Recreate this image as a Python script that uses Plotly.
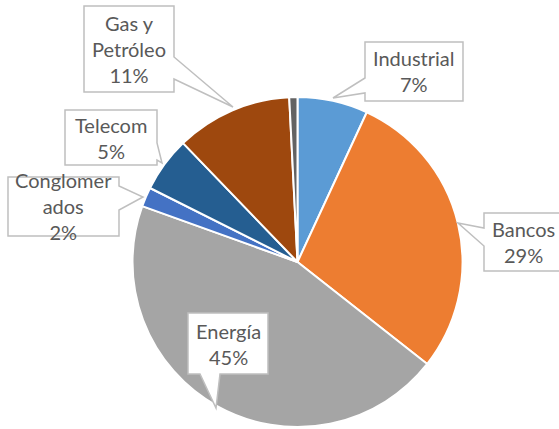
import plotly.graph_objects as go

W, H = 559, 429

sectors = ["Industrial", "Bancos", "Energía", "Conglomerados", "Telecom", "Gas y Petróleo", "Otros"]
values = [6.9, 28.7, 44.9, 1.9, 5.4, 11.4, 0.8]
colors = ["#5B9BD5", "#ED7D31", "#A5A5A5", "#4472C4", "#255E91", "#9E480E", "#636363"]
label_lines = [["Industrial"], ["Bancos"], ["Energía"], ["Conglomer", "ados"], ["Telecom"], ["Gas y", "Petróleo"], None]

# callout layout (pixels): box x0,y0,x1,y1 ; pointer edge, base range along edge, tip
callouts = [
    dict(box=(365, 42, 463, 101), edge="left", base=(78, 93), tip=(333, 98)),
    dict(box=(484, 213, 562, 271), edge="left", base=(228, 246), tip=(458, 223)),
    dict(box=(188, 313, 268, 374), edge="bottom", base=(200, 220), tip=(216, 408)),
    dict(box=(8, 177, 119, 236), edge="right", base=(186, 210), tip=(143, 197)),
    dict(box=(65, 110, 157, 165), edge="right", base=(143, 160), tip=(162, 163)),
    dict(box=(84, 6, 174, 92), edge="right", base=(57, 79), tip=(233, 107)),
    None,
]

cx, cy, r = 297.5, 262, 165


def px(x):
    return x / W


def py(y):
    return 1 - y / H


def callout_path(c):
    x0, y0, x1, y1 = c["box"]
    b0, b1 = c["base"]
    tx, ty = c["tip"]
    e = c["edge"]
    pts = [(x0, y0)]
    if e == "top":
        pts += [(b0, y0), (tx, ty), (b1, y0)]
    pts += [(x1, y0)]
    if e == "right":
        pts += [(x1, b0), (tx, ty), (x1, b1)]
    pts += [(x1, y1)]
    if e == "bottom":
        pts += [(b1, y1), (tx, ty), (b0, y1)]
    pts += [(x0, y1)]
    if e == "left":
        pts += [(x0, b1), (tx, ty), (x0, b0)]
    return "M " + " L ".join(f"{px(a):.5f},{py(b):.5f}" for a, b in pts) + " Z"


fig = go.Figure(go.Pie(
    labels=sectors, values=values, sort=False, direction="clockwise", rotation=0,
    marker=dict(colors=colors, line=dict(color="white", width=2)),
    textinfo="none", hoverinfo="label+percent", showlegend=False,
    domain=dict(x=[(cx - r) / W, (cx + r) / W], y=[(H - cy - r) / H, (H - cy + r) / H]),
))

total = sum(values)
annotations = []
shapes = []
for lines, v, c in zip(label_lines, values, callouts):
    if lines is None or c is None:
        continue
    pct = round(v / total * 100)
    text = "<br>".join(lines + [f"{pct}%"])
    x0, y0, x1, y1 = c["box"]
    shapes.append(dict(type="path", xref="paper", yref="paper", path=callout_path(c),
                       fillcolor="white", line=dict(color="#BFBFBF", width=1.5), layer="above"))
    annotations.append(dict(
        xref="paper", yref="paper", x=px((x0 + x1) / 2), y=py((y0 + y1) / 2),
        xanchor="center", yanchor="middle", text=text, showarrow=False,
        align="center",
        font=dict(family="Lato, Liberation Sans, sans-serif", size=20, color="#595959"),
    ))

fig.update_layout(
    width=W, height=H, margin=dict(l=0, r=0, t=0, b=0),
    paper_bgcolor="white", plot_bgcolor="white",
    annotations=annotations, shapes=shapes,
)
fig.write_html("out.html", config={"displayModeBar": False},
               post_script="document.body.style.margin='0';document.body.style.overflow='hidden';")
